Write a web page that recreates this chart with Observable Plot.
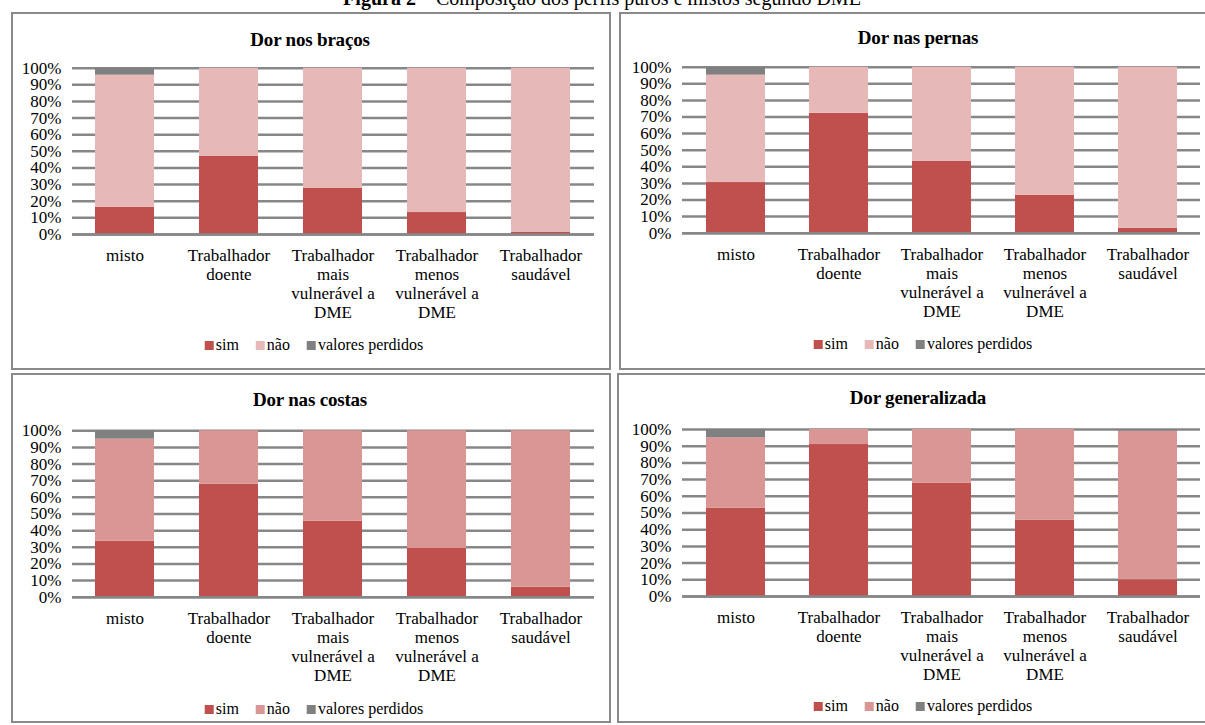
<!DOCTYPE html>
<html>
<head>
<meta charset="utf-8">
<script src="https://cdn.jsdelivr.net/npm/d3@7"></script>
<script src="https://cdn.jsdelivr.net/npm/@observablehq/plot@0.6"></script>
<style>
  html, body { margin: 0; padding: 0; background: #fff; }
  body { width: 1205px; height: 725px; position: relative; overflow: hidden; font-family: 'Liberation Serif', 'Times New Roman', serif; color: #000; }
  .box { position: absolute; border: 2px solid #8a8a8a; box-sizing: border-box; }
  .ptitle { position: absolute; font-family: 'Liberation Serif', serif; font-weight: bold; font-size: 19px; transform: translate(-50%, -50%); white-space: nowrap; letter-spacing: -0.2px; }
  .legend { position: absolute; font-family: 'Liberation Serif', serif; font-size: 16px; transform: translate(-50%, -50%); white-space: nowrap; display: flex; align-items: center; }
  .legend .sw { display: inline-block; width: 9px; height: 9px; margin-right: 2px; }
  .legend .item { display: flex; align-items: center; margin-right: 17px; }
  .legend .item:last-child { margin-right: 0; }
  .chart { position: absolute; }
  svg.chart, svg.chart text { font-family: 'Liberation Serif', serif !important; }
  #figtitle { position: absolute; left: 602px; top: -12px; transform: translateX(-50%); font-family: 'Liberation Serif', serif; font-size: 20px; white-space: nowrap; line-height: 20px; }
</style>
</head>
<body>
<div id="figtitle"><b>Figura 2</b> – Composição dos perfis puros e mistos segundo DME</div>
<script>
// ---- data ----
const categories = ["misto", "Trabalhador doente", "Trabalhador mais vulnerável a DME", "Trabalhador menos vulnerável a DME", "Trabalhador saudável"];
const categoryLabels = ["misto", "Trabalhador\ndoente", "Trabalhador\nmais\nvulnerável a\nDME", "Trabalhador\nmenos\nvulnerável a\nDME", "Trabalhador\nsaudável"];
const series = ["sim", "não", "valores perdidos"];
const yTicks = [0, 10, 20, 30, 40, 50, 60, 70, 80, 90, 100];
const panelTitles = ["Dor nos braços", "Dor nas pernas", "Dor nas costas", "Dor generalizada"];

const bracosSim  = [16.4, 46.9, 27.9, 13.2, 1.2];
const bracosNao  = [79.4, 53.1, 72.1, 86.8, 98.8];
const bracosPerd = [4.2, 0, 0, 0, 0];

const pernasSim  = [30.5, 72.3, 43.4, 22.9, 3.0];
const pernasNao  = [64.7, 27.7, 56.6, 77.1, 97.0];
const pernasPerd = [4.8, 0, 0, 0, 0];

const costasSim  = [33.7, 67.9, 45.7, 29.3, 6.0];
const costasNao  = [61.3, 32.1, 54.3, 70.7, 94.0];
const costasPerd = [5.0, 0, 0, 0, 0];

const geralSim  = [52.8, 91.0, 67.9, 45.6, 10.0];
const geralNao  = [42.2, 9.0, 32.1, 54.4, 89.0];
const geralPerd = [5.0, 0, 0, 0, 1.0];

// ---- styles ----
const colorsLight = ["#C0504D", "#E6B9B8", "#808080"];
const colorsDark  = ["#C0504D", "#D99694", "#808080"];

function rowsFrom(sim, nao, perd) {
  const rows = [];
  categories.forEach((c, i) => {
    rows.push({cat: c, series: series[0], value: sim[i]});
    rows.push({cat: c, series: series[1], value: nao[i]});
    rows.push({cat: c, series: series[2], value: perd[i]});
  });
  return rows;
}

const panels = [
  {title: panelTitles[0], rows: rowsFrom(bracosSim, bracosNao, bracosPerd), colors: colorsLight,
   box: [11, 12, 600, 358], svg: [11, 50, 598, 280], m: [17.7, 15, 96, 61], tpos: [310, 40], lpos: [314, 345]},
  {title: panelTitles[1], rows: rowsFrom(pernasSim, pernasNao, pernasPerd), colors: colorsLight,
   box: [619, 12, 590, 358], svg: [619, 50, 586, 280], m: [16.7, 5, 97.3, 63], tpos: [918, 38], lpos: [923, 344]},
  {title: panelTitles[2], rows: rowsFrom(costasSim, costasNao, costasPerd), colors: colorsDark,
   box: [11, 373, 600, 350], svg: [11, 412, 598, 280], m: [18.3, 15, 95.3, 61], tpos: [310, 400], lpos: [314, 709]},
  {title: panelTitles[3], rows: rowsFrom(geralSim, geralNao, geralPerd), colors: colorsDark,
   box: [617, 373, 592, 350], svg: [619, 412, 586, 280], m: [17, 5, 96, 63], tpos: [918, 398], lpos: [923, 706]}
];

for (const p of panels) {
  const box = document.createElement("div");
  box.className = "box";
  Object.assign(box.style, {left: p.box[0] + "px", top: p.box[1] + "px", width: p.box[2] + "px", height: p.box[3] + "px"});
  document.body.appendChild(box);

  const t = document.createElement("div");
  t.className = "ptitle";
  t.textContent = p.title;
  Object.assign(t.style, {left: p.tpos[0] + "px", top: p.tpos[1] + "px"});
  document.body.appendChild(t);

  const chart = Plot.plot({
    width: p.svg[2], height: p.svg[3],
    marginTop: p.m[0], marginRight: p.m[1], marginBottom: p.m[2], marginLeft: p.m[3],
    style: {fontFamily: "'Liberation Serif', serif", fontSize: "17px", color: "#000", background: "transparent", overflow: "visible"},
    x: {domain: categories, paddingInner: 0.43, paddingOuter: 0.215, label: null},
    y: {domain: [0, 100], label: null},
    color: {domain: series, range: p.colors},
    marks: [
      Plot.gridY(yTicks, {stroke: "#878787", strokeWidth: 2.5, strokeOpacity: 1}),
      Plot.barY(p.rows, {x: "cat", y: "value", fill: "series", order: series, inset: 0}),
      Plot.ruleY([0], {stroke: "#878787", strokeWidth: 2.5}),
      Plot.axisY(yTicks, {tickSize: 0, tickPadding: 11, tickFormat: d => d + "%", fill: "#000"}),
      Plot.axisX(categories, {tickSize: 0, tickPadding: 13, lineHeight: 1.12, fill: "#000",
        tickFormat: d => categoryLabels[categories.indexOf(d)]})
    ]
  });
  chart.classList.add("chart");
  Object.assign(chart.style, {left: p.svg[0] + "px", top: p.svg[1] + "px"});
  document.body.appendChild(chart);

  const lg = document.createElement("div");
  lg.className = "legend";
  Object.assign(lg.style, {left: p.lpos[0] + "px", top: p.lpos[1] + "px"});
  series.forEach((s, i) => {
    const it = document.createElement("span");
    it.className = "item";
    const sw = document.createElement("span");
    sw.className = "sw";
    sw.style.background = p.colors[i];
    const tx = document.createElement("span");
    tx.textContent = s;
    it.appendChild(sw); it.appendChild(tx);
    lg.appendChild(it);
  });
  document.body.appendChild(lg);
}
</script>
</body>
</html>
